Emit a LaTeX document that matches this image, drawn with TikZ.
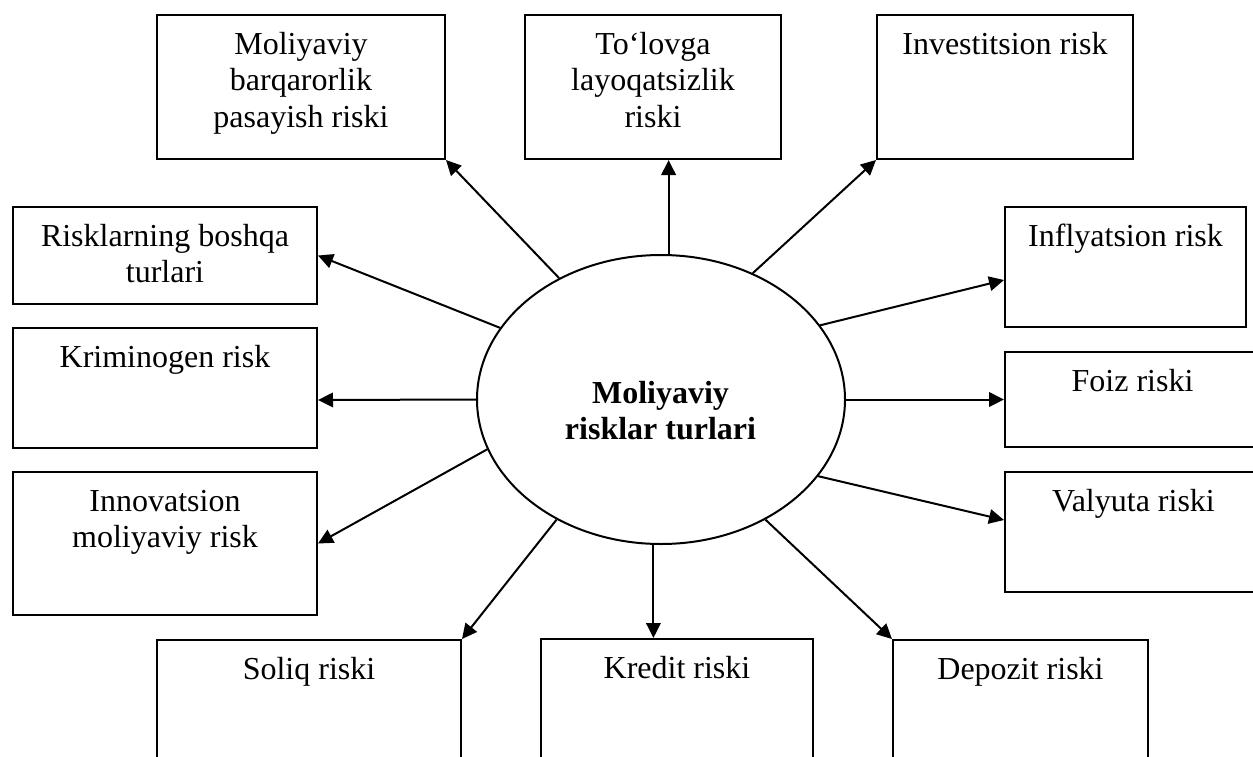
\documentclass[tikz,border=0pt]{standalone}
\usepackage{fontspec}
\setmainfont{Liberation Serif}
\usetikzlibrary{arrows.meta,shapes.geometric}
\begin{document}
\begin{tikzpicture}[x=1pt,y=-1pt,
  box/.style={draw, line width=2pt, rectangle, inner sep=0pt},
  lbl/.style={anchor=north, inner sep=0pt, align=center, font=\fontsize{32}{36.5}\selectfont},
  arr/.style={line width=2pt, -{Triangle[length=15pt,width=14.5pt]}}]
\useasboundingbox (0,0) rectangle (1253,756);
\clip (0,0) rectangle (1253,756);
% boxes
\node[box, minimum width=288pt, minimum height=144pt] (b1) at (301,87) {};
\node[box, minimum width=256pt, minimum height=144pt] (b2) at (653,87) {};
\node[box, minimum width=256pt, minimum height=144pt] (b3) at (1005,87) {};
\node[box, minimum width=241pt, minimum height=120pt] (b4) at (1125.5,267) {};
\node[box, minimum width=255pt, minimum height=95pt] (b5) at (1132.5,399.5) {};
\node[box, minimum width=257pt, minimum height=120pt] (b6) at (1133.5,532) {};
\node[box, minimum width=255pt, minimum height=130pt] (b7) at (1020.5,705) {};
\node[box, minimum width=272pt, minimum height=131pt] (b8) at (677,704.5) {};
\node[box, minimum width=304pt, minimum height=130pt] (b9) at (309,705) {};
\node[box, minimum width=304pt, minimum height=143pt] (b10) at (165,543.5) {};
\node[box, minimum width=304pt, minimum height=120pt] (b11) at (165,388) {};
\node[box, minimum width=304pt, minimum height=97pt] (b12) at (165,255.5) {};
% labels
\node[lbl] (t1) at ([yshift=-14.45pt]b1.north) {\strut Moliyaviy\\barqarorlik\\pasayish riski};
\node[lbl] (t2) at ([yshift=-14.45pt]b2.north) {\strut To‘lovga\\layoqatsizlik\\riski};
\node[lbl] (t3) at ([yshift=-14.45pt]b3.north) {\strut Investitsion risk};
\node[lbl] (t4) at ([yshift=-14.45pt]b4.north) {\strut Inflyatsion risk};
\node[lbl] (t5) at ([yshift=-14.45pt]b5.north) {\strut Foiz riski};
\node[lbl] (t6) at ([yshift=-14.45pt]b6.north) {\strut Valyuta riski};
\node[lbl] (t7) at ([yshift=-14.45pt]b7.north) {\strut Depozit riski};
\node[lbl] (t8) at ([yshift=-14.45pt]b8.north) {\strut Kredit riski};
\node[lbl] (t9) at ([yshift=-14.45pt]b9.north) {\strut Soliq riski};
\node[lbl] (t10) at ([yshift=-14.45pt]b10.north) {\strut Innovatsion\\moliyaviy risk};
\node[lbl] (t11) at ([yshift=-14.45pt]b11.north) {\strut Kriminogen risk};
\node[lbl] (t12) at ([yshift=-14.45pt]b12.north) {\strut Risklarning boshqa\\turlari};
% centre
\node[draw, ellipse, line width=2pt, minimum width=368pt, minimum height=289pt, inner sep=0pt] (c) at (661,399.5) {};
\node[lbl, font=\fontsize{32}{36.5}\selectfont\bfseries] (ct) at (660.5,377.45) {\strut Moliyaviy\\risklar turlari};
% connectors
\draw[arr] (c.130.7) -- (b1.south east);
\draw[arr] (c.87) -- (c.87 |- b2.south);
\draw[arr] (c.54) -- (b3.south west);
\draw[arr] (c.25.5) -- ([yshift=-13pt]b4.west);
\draw[arr] (c.east) -- (b5.west);
\draw[arr] (c.334.8) -- ([yshift=12pt]b6.west);
\draw[arr] (c.311) -- (b7.north west);
\draw[arr] (c.267) -- (c.267 |- b8.north);
\draw[arr] (c.229) -- (b9.north east);
\draw[arr] (c.196.3) -- (b10.east);
\draw[arr] (c.west) -- ([yshift=-12pt]b11.east);
\draw[arr] (c.156.5) -- (b12.east);
\end{tikzpicture}
\end{document}
